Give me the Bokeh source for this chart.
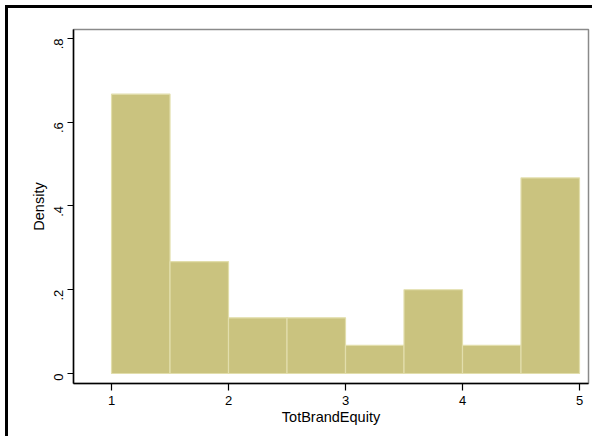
from bokeh.plotting import figure
from bokeh.models import FixedTicker, Range1d
from bokeh.embed import file_html
from bokeh.resources import INLINE
import math

bin_left = [1.0, 1.5, 2.0, 2.5, 3.0, 3.5, 4.0, 4.5]
bin_width = 0.5
density = [0.667, 0.267, 0.133, 0.133, 0.067, 0.2, 0.067, 0.467]
x_ticks = [1, 2, 3, 4, 5]
y_ticks = [0, 0.2, 0.4, 0.6, 0.8]
y_tick_labels = ["0", ".2", ".4", ".6", ".8"]

bin_right = [b + bin_width for b in bin_left]
bottoms = [0] * len(bin_left)

FONT = "Liberation Sans"

p = figure(width=587, height=431, output_backend="svg", toolbar_location=None,
           x_range=Range1d(0.675, 5.077), y_range=Range1d(-0.0239, 0.8215),
           min_border_left=65, min_border_top=21, min_border_right=7, min_border_bottom=56)
p.styles = {"border-top": "3px solid black", "border-left": "3px solid black",
            "margin-left": "5px", "margin-top": "5px"}

p.quad(left=bin_left, right=bin_right, bottom=bottoms, top=density,
       fill_color="#CAC37F", line_color="#E2DEAC", line_width=1.2)

p.xgrid.visible = False
p.ygrid.visible = False
p.outline_line_color = "#8A8A8A"
p.outline_line_width = 1.5

for ax in (p.xaxis[0], p.yaxis[0]):
    ax.axis_line_color = "black"
    ax.axis_line_width = 1.5
    ax.major_tick_line_color = "black"
    ax.major_tick_line_width = 1.2
    ax.minor_tick_line_color = None
    ax.major_tick_in = 0
    ax.major_label_text_font = FONT
    ax.major_label_text_font_size = "13px"
    ax.major_label_text_color = "black"
    ax.axis_label_text_font = FONT
    ax.axis_label_text_font_size = "14.5px"
    ax.axis_label_text_font_style = "normal"
    ax.axis_label_text_color = "black"

p.xaxis.ticker = FixedTicker(ticks=x_ticks)
p.xaxis.major_tick_out = 7
p.xaxis.major_label_standoff = 5
p.xaxis.axis_label = "TotBrandEquity"
p.xaxis.axis_label_standoff = 1

p.yaxis.ticker = FixedTicker(ticks=y_ticks)
p.yaxis.major_label_overrides = {t: l for t, l in zip(y_ticks, y_tick_labels)}
p.yaxis.major_label_orientation = math.pi / 2
p.yaxis.major_tick_out = 6
p.yaxis.major_label_standoff = 9
p.yaxis.axis_label = "Density"
p.yaxis.axis_label_standoff = 0

open("out.html", "w").write(file_html(p, INLINE))
